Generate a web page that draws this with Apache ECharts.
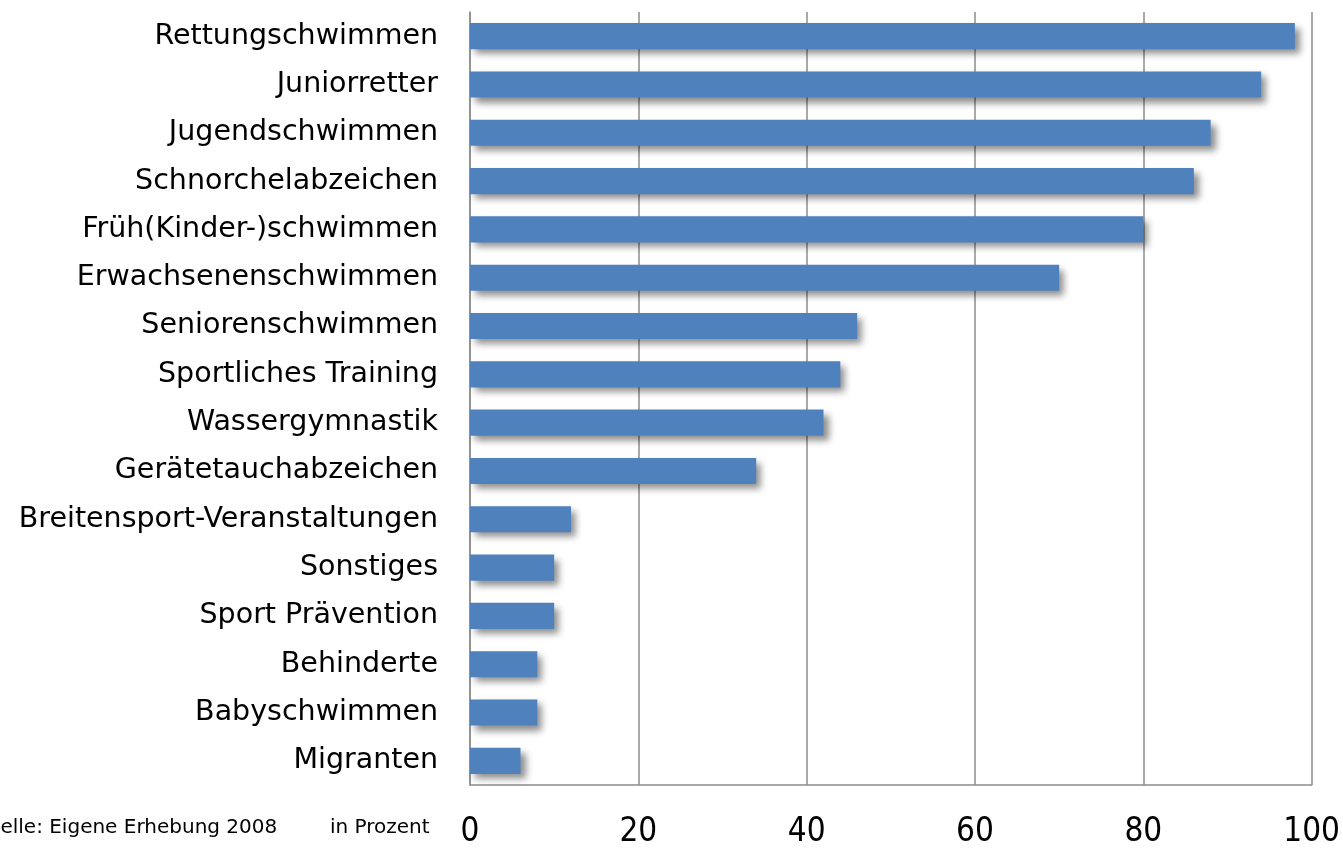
<!DOCTYPE html>
<html lang="de">
<head>
    <meta charset="UTF-8">
    <title>Angebote</title>
    <script src="https://cdn.jsdelivr.net/npm/echarts@6/dist/echarts.min.js"></script>
    <style>
        html, body { margin: 0; padding: 0; background: #fff; }
    </style>
</head>
<body>
<div id="main" style="width: 1343px;height:855px;"></div>
<script type="text/javascript">
    var categories = ['Rettungschwimmen', 'Juniorretter', 'Jugendschwimmen', 'Schnorchelabzeichen',
        'Früh(Kinder-)schwimmen', 'Erwachsenenschwimmen', 'Seniorenschwimmen', 'Sportliches Training',
        'Wassergymnastik', 'Gerätetauchabzeichen', 'Breitensport-Veranstaltungen', 'Sonstiges',
        'Sport Prävention', 'Behinderte', 'Babyschwimmen', 'Migranten'];
    var values = [98, 94, 88, 86, 80, 70, 46, 44, 42, 34, 12, 10, 10, 8, 8, 6];
    var xTicks = [0, 20, 40, 60, 80, 100];

    var chart = echarts.init(document.getElementById('main'));

    var option = {
        animation: false,
        grid: { left: 470, right: 31, top: 12, bottom: 70 },
        xAxis: {
            type: 'value',
            min: xTicks[0],
            max: xTicks[xTicks.length - 1],
            interval: 20,
            axisLine: { show: true, lineStyle: { color: '#8c8c8c', width: 1.5 } },
            axisTick: { show: false },
            splitLine: { show: true, lineStyle: { color: '#8c8c8c', width: 1.5 } },
            axisLabel: {
                margin: 31,
                fontFamily: 'DejaVu Sans Condensed',
                fontSize: 33,
                color: '#000'
            }
        },
        yAxis: {
            type: 'category',
            inverse: true,
            data: categories,
            axisLine: { show: true, lineStyle: { color: '#8c8c8c', width: 1.5 } },
            axisTick: { show: false },
            axisLabel: {
                margin: 32,
                fontFamily: 'DejaVu Sans',
                fontSize: 28.5,
                color: '#000'
            }
        },
        series: [{
            type: 'bar',
            data: values,
            barWidth: '54%',
            itemStyle: {
                color: '#4f81bd',
                shadowColor: 'rgba(0,0,0,0.45)',
                shadowBlur: 7,
                shadowOffsetX: 5,
                shadowOffsetY: 5
            }
        }],
        graphic: [{
            type: 'text',
            left: -28,
            top: 818,
            style: { text: 'Quelle: Eigene Erhebung 2008', font: '20px "DejaVu Sans"', fill: '#000' }
        }, {
            type: 'text',
            left: 330,
            top: 818,
            style: { text: 'in Prozent', font: '20px "DejaVu Sans"', fill: '#000' }
        }]
    };

    chart.setOption(option);
</script>
</body>
</html>
